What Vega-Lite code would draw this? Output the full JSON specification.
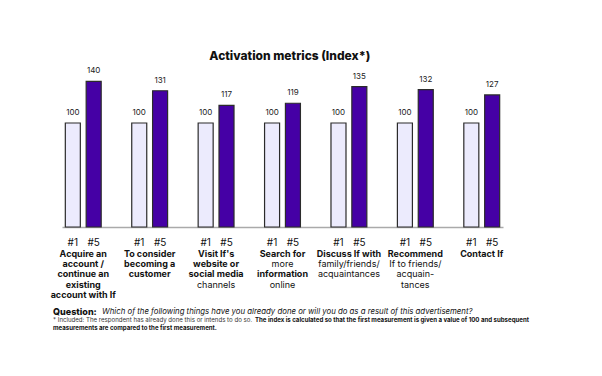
{
  "$schema": "https://vega.github.io/schema/vega-lite/v6.json",
  "padding": {"left": 50, "top": 50, "right": 5, "bottom": 5},
  "spacing": 0,
  "title": {"text": "Activation metrics (Index*)", "font": "Inter", "fontSize": 12, "fontWeight": 800, "color": "#111111", "anchor": "middle", "offset": 4},
  "config": {"view": {"stroke": null}, "font": "Inter"},
  "datasets": {
    "bars": [
      {"metric": "Acquire/continue account", "wave": "#1", "index": 100},
      {"metric": "Acquire/continue account", "wave": "#5", "index": 140},
      {"metric": "Consider becoming customer", "wave": "#1", "index": 100},
      {"metric": "Consider becoming customer", "wave": "#5", "index": 131},
      {"metric": "Visit website/social", "wave": "#1", "index": 100},
      {"metric": "Visit website/social", "wave": "#5", "index": 117},
      {"metric": "Search information", "wave": "#1", "index": 100},
      {"metric": "Search information", "wave": "#5", "index": 119},
      {"metric": "Discuss", "wave": "#1", "index": 100},
      {"metric": "Discuss", "wave": "#5", "index": 135},
      {"metric": "Recommend", "wave": "#1", "index": 100},
      {"metric": "Recommend", "wave": "#5", "index": 132},
      {"metric": "Contact", "wave": "#1", "index": 100},
      {"metric": "Contact", "wave": "#5", "index": 127}
    ],
    "labels": [
      {"metric": "Acquire/continue account", "line": 1, "text": "Acquire an", "emph": true},
      {"metric": "Acquire/continue account", "line": 2, "text": "account /", "emph": true},
      {"metric": "Acquire/continue account", "line": 3, "text": "continue an", "emph": true},
      {"metric": "Acquire/continue account", "line": 4, "text": "existing", "emph": true},
      {"metric": "Acquire/continue account", "line": 5, "text": "account with If", "emph": true},
      {"metric": "Consider becoming customer", "line": 1, "text": "To consider", "emph": true},
      {"metric": "Consider becoming customer", "line": 2, "text": "becoming a", "emph": true},
      {"metric": "Consider becoming customer", "line": 3, "text": "customer", "emph": true},
      {"metric": "Visit website/social", "line": 1, "text": "Visit If's", "emph": true},
      {"metric": "Visit website/social", "line": 2, "text": "website or", "emph": true},
      {"metric": "Visit website/social", "line": 3, "text": "social media", "emph": true},
      {"metric": "Visit website/social", "line": 4, "text": "channels", "emph": false},
      {"metric": "Search information", "line": 1, "text": "Search for", "emph": true},
      {"metric": "Search information", "line": 2, "text": "more", "emph": false},
      {"metric": "Search information", "line": 3, "text": "information", "emph": true},
      {"metric": "Search information", "line": 4, "text": "online", "emph": false},
      {"metric": "Discuss", "line": 1, "text": "Discuss If with", "emph": true},
      {"metric": "Discuss", "line": 2, "text": "family/friends/", "emph": false},
      {"metric": "Discuss", "line": 3, "text": "acquaintances", "emph": false},
      {"metric": "Recommend", "line": 1, "text": "Recommend", "emph": true},
      {"metric": "Recommend", "line": 2, "text": "If to friends/", "emph": false},
      {"metric": "Recommend", "line": 3, "text": "acquain-", "emph": false},
      {"metric": "Recommend", "line": 4, "text": "tances", "emph": false},
      {"metric": "Contact", "line": 1, "text": "Contact If", "emph": true}
    ],
    "foot": [
      {"line": 0, "part": "head", "text": "Question:"},
      {"line": 0, "part": "question", "text": "Which of the following things have you already done or will you do as a result of this advertisement?"},
      {"line": 1, "part": "note", "text": "* Included: The respondent has already done this or intends to do so."},
      {"line": 1, "part": "notebold", "text": "The index is calculated so that the first measurement is given a value of 100 and subsequent"},
      {"line": 2, "part": "notebold2", "text": "measurements are compared to the first measurement."}
    ]
  },
  "vconcat": [
    {
      "width": 441,
      "height": 156,
      "data": {"name": "bars"},
      "encoding": {
        "x": {"field": "metric", "type": "nominal", "sort": null, "scale": {"paddingInner": 0.46, "paddingOuter": 0.05},
              "axis": {"labels": false, "ticks": false, "title": null, "grid": false, "domainColor": "#aaaaaa", "domainWidth": 1.5}},
        "xOffset": {"field": "wave", "type": "nominal", "scale": {"paddingInner": 0.28}},
        "y": {"field": "index", "type": "quantitative", "scale": {"domain": [0, 150]}, "axis": null}
      },
      "layer": [
        {"mark": {"type": "bar", "stroke": "#2b2b2b", "strokeWidth": 1.2},
         "encoding": {"color": {"field": "wave", "type": "nominal", "scale": {"domain": ["#1", "#5"], "range": ["#ECEBFD", "#4500A5"]}, "legend": null}}},
        {"mark": {"type": "text", "dy": -10, "fontSize": 8, "color": "#222222"},
         "encoding": {"text": {"field": "index", "type": "quantitative"}}}
      ]
    },
    {
      "width": 441,
      "height": 72,
      "encoding": {
        "x": {"field": "metric", "type": "nominal", "sort": null, "scale": {"paddingInner": 0.46, "paddingOuter": 0.05}, "axis": null}
      },
      "layer": [
        {"data": {"name": "bars"},
         "mark": {"type": "text", "fontSize": 10, "color": "#111111"},
         "encoding": {
           "xOffset": {"field": "wave", "type": "nominal", "scale": {"paddingInner": 0.28}},
           "y": {"datum": 0, "type": "quantitative", "scale": {"domain": [-1.27, 5.3], "reverse": true}, "axis": null},
           "text": {"field": "wave"}
         }},
        {"data": {"name": "labels"},
         "transform": [{"filter": "datum.emph"}],
         "mark": {"type": "text", "fontSize": 9, "fontWeight": 700, "color": "#111111"},
         "encoding": {
           "y": {"field": "line", "type": "quantitative"},
           "text": {"field": "text"}
         }},
        {"data": {"name": "labels"},
         "transform": [{"filter": "!datum.emph"}],
         "mark": {"type": "text", "fontSize": 9, "fontWeight": 400, "color": "#111111"},
         "encoding": {
           "y": {"field": "line", "type": "quantitative"},
           "text": {"field": "text"}
         }}
      ]
    },
    {
      "width": 441,
      "height": 32,
      "data": {"name": "foot"},
      "encoding": {
        "x": {"datum": 0, "type": "quantitative", "scale": {"domain": [0, 1]}, "axis": null},
        "y": {"field": "line", "type": "quantitative", "scale": {"domain": [-1.5, 2.5], "reverse": true}, "axis": null},
        "text": {"field": "text"}
      },
      "layer": [
        {"transform": [{"filter": "datum.part == 'head'"}],
         "mark": {"type": "text", "align": "left", "dx": -9, "fontSize": 9, "fontWeight": 800, "color": "#111111"}},
        {"transform": [{"filter": "datum.part == 'question'"}],
         "mark": {"type": "text", "align": "left", "dx": 40, "fontSize": 7.8, "fontStyle": "italic", "color": "#111111"}},
        {"transform": [{"filter": "datum.part == 'note'"}],
         "mark": {"type": "text", "align": "left", "dx": -9, "fontSize": 6.1, "color": "#333333"}},
        {"transform": [{"filter": "datum.part == 'notebold'"}],
         "mark": {"type": "text", "align": "left", "dx": 193, "fontSize": 6.1, "fontWeight": 700, "color": "#111111"}},
        {"transform": [{"filter": "datum.part == 'notebold2'"}],
         "mark": {"type": "text", "align": "left", "dx": -9, "fontSize": 6.1, "fontWeight": 700, "color": "#111111"}}
      ]
    }
  ]
}
